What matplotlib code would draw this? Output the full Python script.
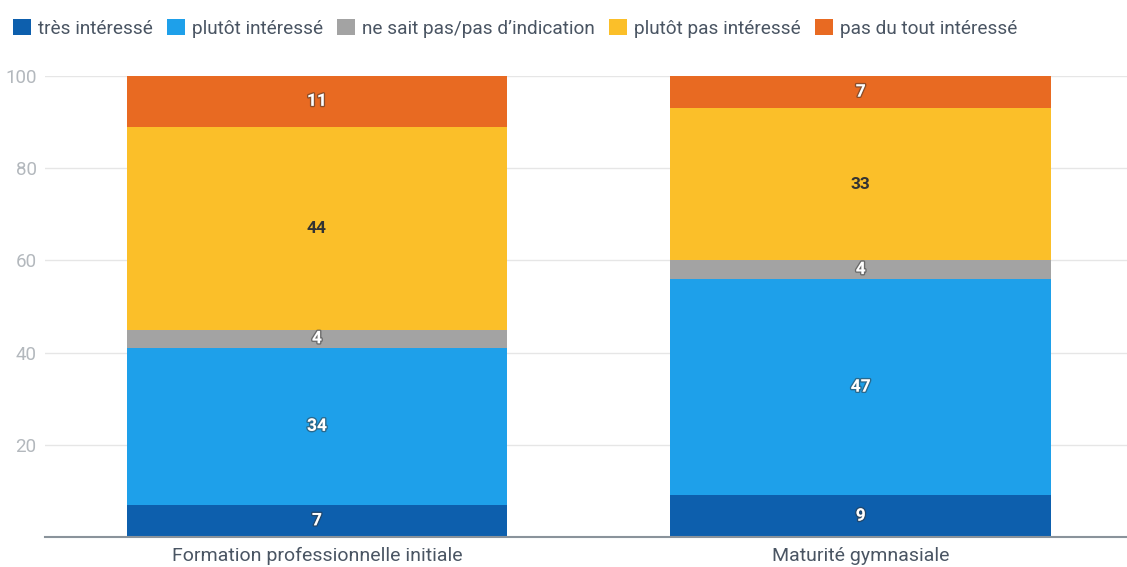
import matplotlib
matplotlib.use("Agg")
import matplotlib.pyplot as plt
import matplotlib.patheffects as pe
from matplotlib.patches import Patch

plt.rcParams['font.family'] = ['Roboto', 'DejaVu Sans']

categories = ["Formation professionnelle initiale", "Maturité gymnasiale"]
series = ["très intéressé", "plutôt intéressé", "ne sait pas/pas d’indication",
          "plutôt pas intéressé", "pas du tout intéressé"]
values = [
    [7, 9],
    [34, 47],
    [4, 4],
    [44, 33],
    [11, 7],
]
colors = ["#0d5fad", "#1ea0ea", "#a3a3a3", "#fbbf29", "#e86a22"]
label_dark = [False, False, False, True, False]
yticks = [20, 40, 60, 80, 100]

fig = plt.figure(figsize=(11.27, 5.67), dpi=100)
ax = fig.add_axes([0.04, 0.053, 0.965, 0.813])

x = list(range(len(categories)))
bottom = [0, 0]
for vals, col, dark in zip(values, colors, label_dark):
    ax.bar(x, vals, width=0.7, bottom=bottom, color=col, zorder=2)
    for xi, v, b in zip(x, vals, bottom):
        if dark:
            ax.text(xi, b + v / 2, str(v), ha='center', va='center', fontsize=12.5,
                    fontweight='bold', color='#333333', zorder=3)
        else:
            ax.text(xi, b + v / 2, str(v), ha='center', va='center', fontsize=12.5,
                    fontweight='bold', color='white', zorder=3,
                    path_effects=[pe.withStroke(linewidth=2, foreground='#33333380')])
    bottom = [b + v for b, v in zip(bottom, vals)]

ax.set_xlim(-0.5, 1.5)
ax.set_ylim(0, 100)
ax.set_yticks(yticks)
ax.set_xticks(x)
ax.set_xticklabels(categories, fontsize=14, color='#4a5563')
ax.tick_params(axis='y', length=0, labelsize=13.5, labelcolor='#b3b8bd', pad=6)
ax.tick_params(axis='x', length=0, pad=7)
ax.grid(axis='y', color='#e6e6e6', linewidth=1, zorder=0)
for s in ['top', 'right', 'left']:
    ax.spines[s].set_visible(False)
ax.spines['bottom'].set_color('#8a939b')
ax.spines['bottom'].set_linewidth(1.5)

handles = [Patch(facecolor=c, edgecolor='none') for c in colors]
fig.legend(handles, series, loc='upper left', bbox_to_anchor=(0.0, 0.99), ncol=5,
           frameon=False, fontsize=13.7, labelcolor='#4a5563',
           handlelength=0.95, handleheight=0.95, handletextpad=0.35, columnspacing=0.75,
           borderaxespad=0.3)

fig.savefig("out.png", dpi=100)
